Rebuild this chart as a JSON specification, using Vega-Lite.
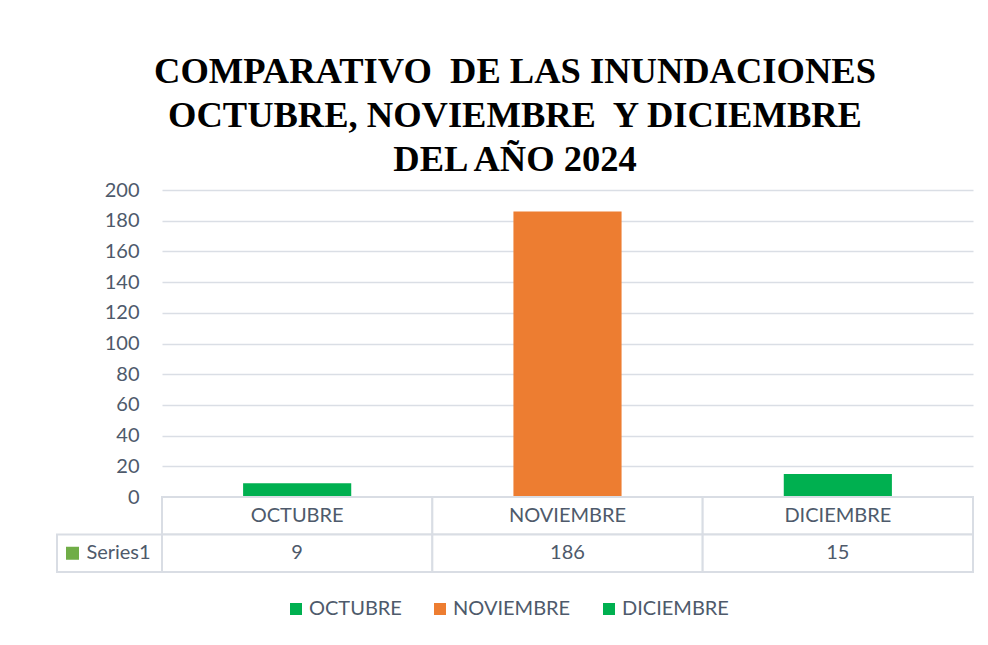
{
  "$schema": "https://vega.github.io/schema/vega-lite/v6.json",
  "padding": {"left": 56, "top": 53, "right": 16, "bottom": 10},
  "background": "white",
  "datasets": {
    "datos": [
      {"mes": "OCTUBRE", "valor": 9},
      {"mes": "NOVIEMBRE", "valor": 186},
      {"mes": "DICIEMBRE", "valor": 15}
    ]
  },
  "title": {
    "text": ["COMPARATIVO\u00a0 DE LAS INUNDACIONES", "OCTUBRE, NOVIEMBRE\u00a0 Y DICIEMBRE", "DEL AÑO 2024"],
    "font": "Liberation Serif",
    "fontSize": 36.5,
    "fontWeight": "bold",
    "color": "#000000",
    "lineHeight": 44,
    "anchor": "middle",
    "offset": 2
  },
  "columns": 2,
  "spacing": 0,
  "bounds": "flush",
  "concat": [
    {
      "width": 105,
      "height": 307,
      "data": {"values": [{"a": 1}]},
      "mark": {"type": "text", "text": ""},
      "encoding": {}
    },
    {
      "width": 811,
      "height": 307,
      "data": {"name": "datos"},
      "mark": {"type": "bar"},
      "encoding": {
        "x": {"field": "mes", "type": "nominal", "sort": ["OCTUBRE", "NOVIEMBRE", "DICIEMBRE"], "scale": {"paddingInner": 0.6, "paddingOuter": 0.3}, "axis": null},
        "y": {"field": "valor", "type": "quantitative", "scale": {"domain": [0, 200], "nice": false},
          "axis": {"title": null, "values": [0, 20, 40, 60, 80, 100, 120, 140, 160, 180, 200], "domain": false, "ticks": false, "labelPadding": 23, "gridColor": "#dadee5", "gridWidth": 1.5, "labelFontSize": 20, "labelFont": "Lato", "labelColor": "#4e5a6b"}},
        "color": {"field": "mes", "type": "nominal",
          "scale": {"domain": ["OCTUBRE", "NOVIEMBRE", "DICIEMBRE"], "range": ["#00b050", "#ed7d31", "#00b050"]},
          "legend": {"title": null, "orient": "none", "direction": "horizontal", "legendX": 229, "legendY": 409, "symbolType": "square", "symbolSize": 144, "symbolStrokeWidth": 0, "labelFontSize": 20, "labelFont": "Lato", "labelColor": "#4e5a6b", "columnPadding": 28, "labelOffset": 3}}
      }
    },
    {
      "width": 105,
      "height": 75,
      "data": {"values": [{"et": "Series1"}]},
      "layer": [
        {"mark": {"type": "rect", "fill": "white", "stroke": "#d9dde4", "strokeWidth": 2},
          "encoding": {"y": {"datum": "val", "type": "nominal", "scale": {"domain": ["cat", "val"], "paddingInner": 0, "paddingOuter": 0}, "axis": null}}},
        {"mark": {"type": "point", "shape": "square", "filled": true, "color": "#70ad47", "size": 169, "opacity": 1, "xOffset": -37},
          "encoding": {"y": {"datum": "val", "type": "nominal"}}},
        {"mark": {"type": "text", "dx": 9, "fontSize": 20, "font": "Lato", "color": "#4e5a6b"},
          "encoding": {"y": {"datum": "val", "type": "nominal"}, "text": {"field": "et"}}}
      ]
    },
    {
      "width": 811,
      "height": 75,
      "data": {"name": "datos"},
      "encoding": {
        "x": {"field": "mes", "type": "nominal", "sort": ["OCTUBRE", "NOVIEMBRE", "DICIEMBRE"], "scale": {"paddingInner": 0, "paddingOuter": 0}, "axis": null}
      },
      "layer": [
        {"mark": {"type": "rect", "fill": "white", "stroke": "#d9dde4", "strokeWidth": 2},
          "encoding": {"y": {"datum": "cat", "type": "nominal", "scale": {"domain": ["cat", "val"], "paddingInner": 0, "paddingOuter": 0}, "axis": null}}},
        {"mark": {"type": "rect", "fill": "white", "stroke": "#d9dde4", "strokeWidth": 2},
          "encoding": {"y": {"datum": "val", "type": "nominal"}}},
        {"mark": {"type": "text", "fontSize": 20, "font": "Lato", "color": "#4e5a6b"},
          "encoding": {"y": {"datum": "cat", "type": "nominal"}, "text": {"field": "mes", "type": "nominal"}}},
        {"mark": {"type": "text", "fontSize": 20, "font": "Lato", "color": "#4e5a6b"},
          "encoding": {"y": {"datum": "val", "type": "nominal"}, "text": {"field": "valor", "type": "quantitative"}}}
      ]
    }
  ],
  "config": {
    "view": {"stroke": null},
    "font": "Lato"
  }
}
